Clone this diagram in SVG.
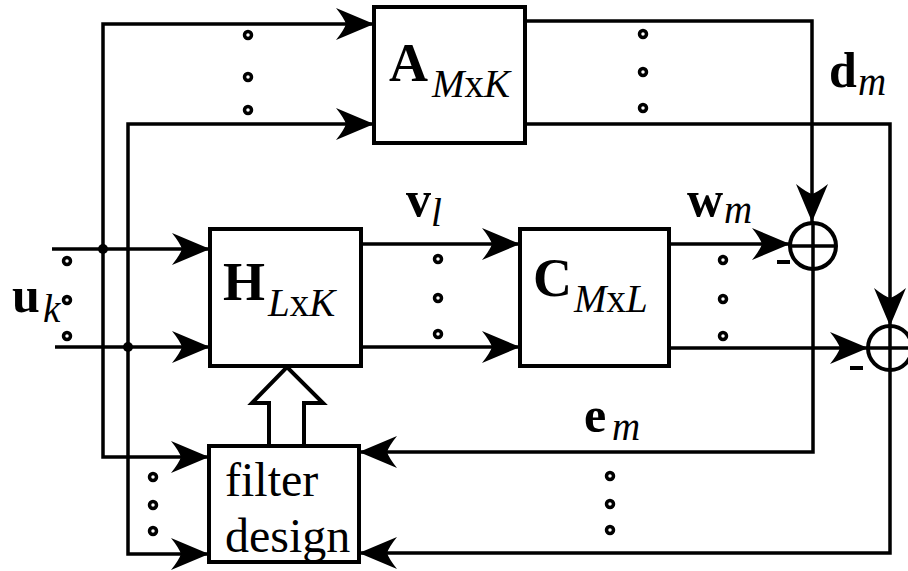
<svg xmlns="http://www.w3.org/2000/svg" width="908" height="571" viewBox="0 0 908 571">
<style>
.ln{fill:none;stroke:#000;stroke-width:3.5;stroke-linecap:butt;stroke-linejoin:miter}
.box{fill:#fff;stroke:#000;stroke-width:4}
.dot{fill:#fff;stroke:#000;stroke-width:3.5}
.jn{fill:#000}
.big{font-family:"Liberation Serif",serif;font-weight:bold;font-size:54px;fill:#000}
.lbl{font-family:"Liberation Serif",serif;font-weight:bold;font-size:50px;fill:#000}
.sub{font-family:"Liberation Serif",serif;font-size:39px;fill:#000}
.it{font-style:italic}
.txt{font-family:"Liberation Serif",serif;font-size:48px;fill:#000}
.minus{stroke:#000;stroke-width:4}
</style>
<defs>
<marker id="ah" markerUnits="userSpaceOnUse" orient="auto" refX="0" refY="0" markerWidth="50" markerHeight="40" viewBox="-40 -20 42 40" overflow="visible">
<path d="M0,0 L-38,-16 Q-30,-6 -28,0 Q-30,6 -38,16 Z" fill="#000"/>
</marker>
</defs>
<g id="connectors">
<path class="ln" d="M52,249 H210" marker-end="url(#ah)"/>
<path class="ln" d="M55,347 H210" marker-end="url(#ah)"/>
<path class="ln" d="M103,249 V24 H374" marker-end="url(#ah)"/>
<path class="ln" d="M128,347 V124 H374" marker-end="url(#ah)"/>
<path class="ln" d="M103,249 V457 H209" marker-end="url(#ah)"/>
<path class="ln" d="M128,347 V554 H209" marker-end="url(#ah)"/>
<circle class="jn" cx="103" cy="249" r="5"/>
<circle class="jn" cx="128" cy="347" r="5"/>
<path class="ln" d="M361,244 H520" marker-end="url(#ah)"/>
<path class="ln" d="M361,347 H520" marker-end="url(#ah)"/>
<path class="ln" d="M669,244 H790" marker-end="url(#ah)"/>
<path class="ln" d="M669,348 H868" marker-end="url(#ah)"/>
<path class="ln" d="M525,21 H812 V222" marker-end="url(#ah)"/>
<path class="ln" d="M525,124 H890 V326" marker-end="url(#ah)"/>
<path class="ln" d="M813,269 V452 H359" marker-end="url(#ah)"/>
<path class="ln" d="M890,370 V553 H359" marker-end="url(#ah)"/>
<path d="M269,446 V403 H252 L287,367 L323,403 H304 V446" fill="#fff" stroke="#000" stroke-width="4" stroke-linejoin="miter"/>
</g>
<g id="dots">
<circle class="dot" cx="248" cy="35" r="3.5"/><circle class="dot" cx="248" cy="77" r="3.5"/><circle class="dot" cx="248" cy="110" r="3.5"/>
<circle class="dot" cx="643" cy="34" r="3.5"/><circle class="dot" cx="643" cy="72" r="3.5"/><circle class="dot" cx="643" cy="108" r="3.5"/>
<circle class="dot" cx="67" cy="261" r="3.5"/><circle class="dot" cx="67" cy="300" r="3.5"/><circle class="dot" cx="67" cy="336" r="3.5"/>
<circle class="dot" cx="438" cy="259" r="3.5"/><circle class="dot" cx="438" cy="298" r="3.5"/><circle class="dot" cx="438" cy="334" r="3.5"/>
<circle class="dot" cx="723" cy="260" r="3.5"/><circle class="dot" cx="723" cy="299" r="3.5"/><circle class="dot" cx="723" cy="336" r="3.5"/>
<circle class="dot" cx="153" cy="477" r="3.5"/><circle class="dot" cx="153" cy="505" r="3.5"/><circle class="dot" cx="153" cy="531" r="3.5"/>
<circle class="dot" cx="610" cy="476" r="3.5"/><circle class="dot" cx="610" cy="504" r="3.5"/><circle class="dot" cx="610" cy="530" r="3.5"/>
</g>
<g id="node-A">
<rect class="box" x="374" y="7" width="151" height="136"/>
<text class="big" x="389" y="81">A</text>
<text class="sub" x="432" y="97"><tspan class="it">M</tspan>x<tspan class="it">K</tspan></text>
</g>
<g id="node-H">
<rect class="box" x="210" y="229" width="151" height="137"/>
<text class="big" x="223" y="300">H</text>
<text class="sub" x="268" y="316"><tspan class="it">L</tspan>x<tspan class="it">K</tspan></text>
</g>
<g id="node-C">
<rect class="box" x="520" y="229" width="149" height="137"/>
<text class="big" x="533" y="296">C</text>
<text class="sub" x="574" y="312"><tspan class="it">M</tspan>x<tspan class="it">L</tspan></text>
</g>
<g id="node-filter">
<rect class="box" x="209" y="446" width="150" height="116"/>
<text class="txt" x="225" y="496">filter</text>
<text class="txt" x="225" y="552">design</text>
</g>
<g id="sum1">
<circle cx="813" cy="246" r="23" fill="#fff" stroke="#000" stroke-width="4"/>
<path class="ln" d="M790,246 H836 M813,223 V269"/>
<line class="minus" x1="777" y1="262" x2="790" y2="262"/>
</g>
<g id="sum2">
<circle cx="890" cy="348" r="22" fill="#fff" stroke="#000" stroke-width="4"/>
<path class="ln" d="M868,348 H912 M890,326 V370"/>
<line class="minus" x1="850" y1="368" x2="863" y2="368"/>
</g>
<g id="labels">
<text class="lbl" x="12" y="312">u</text><text class="sub it" x="43" y="322">k</text>
<text class="lbl" x="406" y="216" font-size="46">v</text><text class="sub it" x="431" y="226">l</text>
<text class="lbl" x="687" y="216" font-size="46">w</text><text class="sub it" x="724" y="223">m</text>
<text class="lbl" x="829" y="87">d</text><text class="sub it" x="858" y="95" font-size="36">m</text>
<text class="lbl" x="584" y="432">e</text><text class="sub it" x="612" y="440">m</text>
</g>
</svg>
